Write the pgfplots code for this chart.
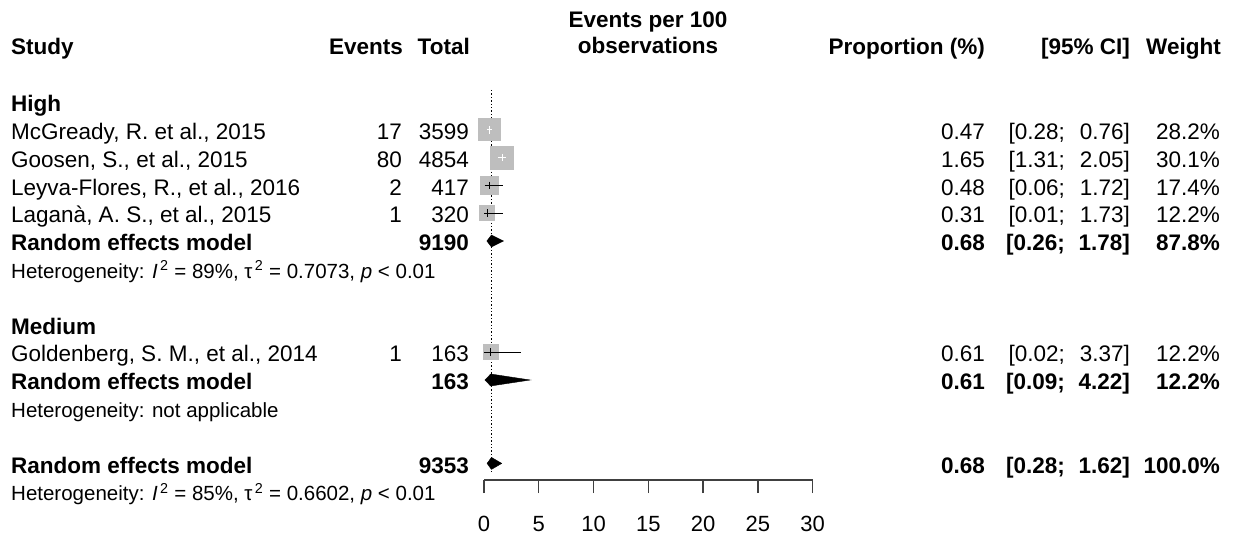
\documentclass[border=0pt]{standalone}
\usepackage{fontspec}
\setmainfont{Liberation Sans}
\usepackage{pgfplots}
\pgfplotsset{compat=1.18}
\definecolor{sqgray}{HTML}{BEBEBE}

\newcommand\trow[8]{%
  \node[anchor=base west] at (11pt,-#1pt) {#2};
  \node[anchor=base east] at (402pt,-#1pt) {#3};
  \node[anchor=base east] at (469pt,-#1pt) {#4};
  \node[anchor=base east] at (985pt,-#1pt) {#5};
  \node[anchor=base east] at (1065pt,-#1pt) {#6};
  \node[anchor=base east] at (1130pt,-#1pt) {#7};
  \node[anchor=base east] at (1220pt,-#1pt) {#8};
}
\newcommand\hetfont{\fontsize{20.5}{24}\selectfont}
\newcommand\sq{\textsuperscript{\,2}}

\begin{document}
\begin{tikzpicture}[every node/.style={inner sep=0pt, font=\fontsize{22.5}{27}\selectfont}]
\path[use as bounding box] (0,0) rectangle (1235pt,-535pt);

\begin{axis}[
  at={(484pt,-480pt)}, anchor=south west,
  scale only axis, width=328.7pt, height=390pt,
  xmin=0, xmax=30, ymin=-480, ymax=-90,
  axis x line*=bottom, axis y line=none,
  xtick={0,5,...,30}, tick align=outside, major tick length=13pt,
  x axis line style={-, line width=1.3pt, color=black!75},
  every tick/.style={black!75, line width=1.3pt},
  xticklabel style={font=\fontsize{22}{26}\selectfont, inner sep=0pt, anchor=north, yshift=-23pt},
  /pgf/number format/assume math mode=true,
  clip=false,
]
% reference line
\addplot[black, dotted, line width=1.4pt] coordinates {(0.68,-90) (0.68,-472)};
% study squares (area proportional to weight)
\addplot[fill=sqgray, draw=none] coordinates {(-0.58,-118.3) (1.52,-118.3) (1.52,-141.3) (-0.58,-141.3)} --cycle;
\addplot[fill=sqgray, draw=none] coordinates {(0.555,-145.6) (2.745,-145.6) (2.745,-169.6) (0.555,-169.6)} --cycle;
\addplot[fill=sqgray, draw=none] coordinates {(-0.387,-175.9) (1.347,-175.9) (1.347,-194.9) (-0.387,-194.9)} --cycle;
\addplot[fill=sqgray, draw=none] coordinates {(-0.42,-205.2) (1.04,-205.2) (1.04,-221.2) (-0.42,-221.2)} --cycle;
\addplot[fill=sqgray, draw=none] coordinates {(-0.12,-344.2) (1.34,-344.2) (1.34,-360.2) (-0.12,-360.2)} --cycle;
% confidence intervals
\addplot[white, line width=1pt] coordinates {(0.28,-129.8) (0.76,-129.8)};
\addplot[white, line width=1pt] coordinates {(0.47,-126) (0.47,-133.6)};
\addplot[white, line width=1pt] coordinates {(1.31,-157.6) (2.05,-157.6)};
\addplot[white, line width=1pt] coordinates {(1.65,-153.8) (1.65,-161.4)};
\addplot[black, line width=1pt] coordinates {(0.06,-185.4) (1.72,-185.4)};
\addplot[black, line width=1pt] coordinates {(0.48,-181.6) (0.48,-189.2)};
\addplot[black, line width=1pt] coordinates {(0.01,-213.2) (1.73,-213.2)};
\addplot[black, line width=1pt] coordinates {(0.31,-209.4) (0.31,-217.0)};
\addplot[black, line width=1pt] coordinates {(0.02,-352.2) (3.37,-352.2)};
\addplot[black, line width=1pt] coordinates {(0.61,-348.4) (0.61,-356.0)};
% diamonds
\addplot[fill=black, draw=black] coordinates {(0.26,-241) (0.68,-235) (1.78,-241) (0.68,-247)} --cycle;
\addplot[fill=black, draw=black] coordinates {(0.09,-380) (0.61,-374) (4.22,-380) (0.61,-386)} --cycle;
\addplot[fill=black, draw=black] coordinates {(0.28,-463.4) (0.68,-457.4) (1.62,-463.4) (0.68,-469.4)} --cycle;
\end{axis}

% header
\node[anchor=base west] at (11pt,-55pt) {\bfseries Study};
\node[anchor=base east] at (403pt,-55pt) {\bfseries Events};
\node[anchor=base east] at (470pt,-55pt) {\bfseries Total};
\node[anchor=base] at (648pt,-27.7pt) {\bfseries Events per 100};
\node[anchor=base] at (648pt,-53.3pt) {\bfseries observations};
\node[anchor=base east] at (985pt,-55pt) {\bfseries Proportion (\%)};
\node[anchor=base east] at (1130pt,-55pt) {\bfseries [95\% CI]};
\node[anchor=base east] at (1221pt,-55pt) {\bfseries Weight};

% High
\node[anchor=base west] at (11pt,-111.7pt) {\bfseries High};
\trow{139.5}{McGready, R. et al., 2015}{17}{3599}{0.47}{[0.28;}{0.76]}{28.2\%}
\trow{167.3}{Goosen, S., et al., 2015}{80}{4854}{1.65}{[1.31;}{2.05]}{30.1\%}
\trow{195.1}{Leyva-Flores, R., et al., 2016}{2}{417}{0.48}{[0.06;}{1.72]}{17.4\%}
\trow{222.9}{Laganà, A. S., et al., 2015}{1}{320}{0.31}{[0.01;}{1.73]}{12.2\%}
\trow{250.7}{\bfseries Random effects model}{}{\bfseries 9190}{\bfseries 0.68}{\bfseries [0.26;}{\bfseries 1.78]}{\bfseries 87.8\%}
\node[anchor=base west] at (11pt,-278.5pt) {\hetfont Heterogeneity: \textit{I}\sq{} = 89\%, τ\sq{} = 0.7073, \textit{p} < 0.01};

% Medium
\node[anchor=base west] at (11pt,-334.1pt) {\bfseries Medium};
\trow{361.9}{Goldenberg, S. M., et al., 2014}{1}{163}{0.61}{[0.02;}{3.37]}{12.2\%}
\trow{389.7}{\bfseries Random effects model}{}{\bfseries 163}{\bfseries 0.61}{\bfseries [0.09;}{\bfseries 4.22]}{\bfseries 12.2\%}
\node[anchor=base west] at (11pt,-417.5pt) {\hetfont Heterogeneity: not applicable};

% Overall
\trow{473.1}{\bfseries Random effects model}{}{\bfseries 9353}{\bfseries 0.68}{\bfseries [0.28;}{\bfseries 1.62]}{\bfseries 100.0\%}
\node[anchor=base west] at (11pt,-500.9pt) {\hetfont Heterogeneity: \textit{I}\sq{} = 85\%, τ\sq{} = 0.6602, \textit{p} < 0.01};
\end{tikzpicture}
\end{document}
